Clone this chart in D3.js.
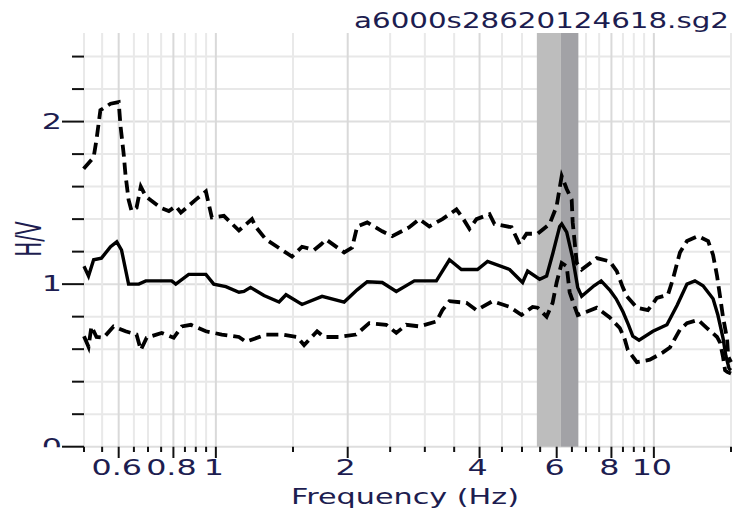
<!DOCTYPE html>
<html><head><meta charset="utf-8">
<script src="https://cdn.jsdelivr.net/npm/d3@7/dist/d3.min.js"></script>
<style>html,body{margin:0;padding:0;background:#fff;overflow:hidden}</style>
</head><body><svg id="c" width="733" height="511"></svg>
<script>
// ---------- data ----------
const title = "a6000s28620124618.sg2";
const xLabel = "Frequency (Hz)";
const yLabel = "H/V";
const xTickValues = [0.5,0.55,0.6,0.65,0.7,0.75,0.8,0.85,0.9,0.95,1,1.5,2,2.5,3,3.5,4,4.5,5,5.5,6,6.5,7,7.5,8,8.5,9,9.5,10,15];
const xTickLabels = [0.6,0.8,1,2,4,6,8,10];
const yTickValues = [0,0.2,0.4,0.6,0.8,1,1.2,1.4,1.6,1.8,2,2.2,2.4];
const yTickLabels = [0,1,2];
const peakFreq = 6.135, bandLow = 5.406, bandHigh = 6.724;

const meanFreq = [0.50,0.512,0.526,0.548,0.575,0.594,0.609,0.632,0.667,0.692,0.793,0.810,0.867,0.949,0.989,1.054,1.129,1.159,1.20,1.288,1.394,1.446,1.573,1.748,1.963,2.102,2.216,2.398,2.582,2.839,3.187,3.414,3.636,3.956,4.171,4.683,5.015,5.149,5.485,5.690,5.88,6.095,6.160,6.324,6.526,6.701,6.842,7.30,7.58,7.95,8.20,8.50,8.75,8.95,9.25,9.95,10.71,11.30,11.90,12.41,12.95,13.65,14.00,14.38,14.60,14.85,15.0];
const meanHV   = [1.11,1.05,1.15,1.16,1.23,1.26,1.21,1.00,1.00,1.02,1.02,1.00,1.06,1.06,1.00,0.985,0.95,0.955,0.98,0.93,0.89,0.935,0.875,0.925,0.89,0.965,1.015,1.01,0.955,1.02,1.02,1.15,1.09,1.09,1.14,1.09,1.01,1.08,1.03,1.05,1.19,1.355,1.37,1.32,1.16,0.98,0.925,0.99,1.02,0.96,0.91,0.83,0.75,0.68,0.655,0.71,0.75,0.87,1.00,1.02,0.99,0.91,0.81,0.67,0.56,0.48,0.47];

const upperFreq = [0.499,0.526,0.534,0.545,0.575,0.600,0.606,0.616,0.622,0.632,0.642,0.659,0.674,0.692,0.748,0.781,0.810,0.832,0.900,0.949,0.979,1.043,1.129,1.209,1.235,1.301,1.416,1.492,1.573,1.676,1.739,1.785,1.963,2.047,2.102,2.216,2.398,2.528,2.765,2.914,3.072,3.290,3.542,3.655,3.793,3.936,4.215,4.327,4.733,4.937,5.122,5.428,5.781,5.998,6.160,6.324,6.492,6.526,6.667,6.842,7.406,7.930,8.228,8.494,8.674,9.144,9.690,10.16,10.77,11.05,11.47,11.90,12.61,13.30,13.65,13.94,14.16,14.38,14.70,14.78,15.0];
const upperHV   = [1.71,1.78,1.89,2.07,2.11,2.12,1.97,1.80,1.67,1.52,1.45,1.47,1.60,1.54,1.47,1.45,1.48,1.44,1.52,1.57,1.41,1.42,1.33,1.40,1.35,1.275,1.21,1.17,1.23,1.21,1.245,1.275,1.195,1.225,1.355,1.38,1.325,1.295,1.35,1.40,1.355,1.40,1.46,1.41,1.34,1.40,1.43,1.37,1.35,1.245,1.31,1.31,1.37,1.48,1.665,1.585,1.52,1.38,1.13,1.09,1.16,1.14,1.08,0.98,0.925,0.855,0.84,0.915,0.935,1.03,1.195,1.265,1.295,1.265,1.18,1.05,0.925,0.80,0.66,0.555,0.52];

const lowerFreq = [0.50,0.512,0.520,0.534,0.554,0.584,0.622,0.659,0.674,0.695,0.752,0.801,0.836,0.877,0.949,1.032,1.129,1.171,1.301,1.416,1.532,1.590,1.703,1.767,1.912,2.091,2.239,2.449,2.582,2.721,2.914,3.187,3.290,3.414,3.734,3.936,4.281,4.683,4.989,5.286,5.428,5.690,5.873,5.998,6.160,6.324,6.423,6.597,6.701,7.026,7.406,7.930,8.360,8.583,8.720,9.144,9.790,10.49,10.88,11.47,11.90,12.61,13.22,13.94,14.16,14.38,14.54,14.70,15.0];
const lowerHV   = [0.68,0.615,0.74,0.675,0.67,0.74,0.71,0.69,0.595,0.67,0.70,0.67,0.74,0.75,0.71,0.69,0.675,0.645,0.69,0.69,0.675,0.625,0.71,0.675,0.675,0.69,0.76,0.75,0.70,0.75,0.74,0.77,0.84,0.895,0.885,0.84,0.895,0.86,0.81,0.86,0.855,0.80,0.885,1.01,1.13,1.11,0.95,0.86,0.81,0.83,0.855,0.795,0.73,0.66,0.595,0.52,0.535,0.58,0.61,0.72,0.76,0.78,0.73,0.675,0.64,0.555,0.47,0.46,0.45];

// ---------- chart ----------
const svg = d3.select("#c");
const x = d3.scaleLog().domain([0.5, 15]).range([84, 731]);
const y = d3.scaleLinear().domain([0, 2.545]).range([446.7, 33]);
const textColor = "#1d1d50";
const font = "DejaVu Sans, Verdana, sans-serif";
const isMajorX = v => xTickLabels.some(l => Math.abs(l - v) < 1e-9);
const isMajorY = v => yTickLabels.some(l => Math.abs(l - v) < 1e-9);

// grid
const grid = svg.append("g");
grid.selectAll("line.h").data(yTickValues).join("line")
  .attr("x1", x(0.5)).attr("x2", x(15))
  .attr("y1", d => y(d)).attr("y2", d => y(d))
  .attr("stroke", d => isMajorY(d) ? "#dedede" : "#e8e8e8").attr("stroke-width", 2);
grid.selectAll("line.v").data(xTickValues).join("line")
  .attr("x1", d => x(d)).attr("x2", d => x(d))
  .attr("y1", y(2.545)).attr("y2", y(0))
  .attr("stroke", d => isMajorX(d) ? "#d9d9d9" : "#e9e9e9").attr("stroke-width", 2);

// peak band
svg.append("rect").attr("x", x(bandLow)).attr("width", x(peakFreq) - x(bandLow))
  .attr("y", y(2.545)).attr("height", y(0) - y(2.545)).attr("fill", "#bdbdbd");
svg.append("rect").attr("x", x(peakFreq)).attr("width", x(bandHigh) - x(peakFreq))
  .attr("y", y(2.545)).attr("height", y(0) - y(2.545)).attr("fill", "#a2a2a6");

// curves
const line = d3.line().x(d => x(d[0])).y(d => y(d[1]));
const zip = (a, b) => a.map((v, i) => [v, b[i]]);
svg.append("path").datum(zip(upperFreq, upperHV)).attr("d", line)
  .attr("fill", "none").attr("stroke", "#000").attr("stroke-width", 3.8)
  .attr("stroke-dasharray", "12,6");
svg.append("path").datum(zip(lowerFreq, lowerHV)).attr("d", line)
  .attr("fill", "none").attr("stroke", "#000").attr("stroke-width", 3.8)
  .attr("stroke-dasharray", "12,6");
svg.append("path").datum(zip(meanFreq, meanHV)).attr("d", line)
  .attr("fill", "none").attr("stroke", "#000").attr("stroke-width", 3.4);

// x ticks
svg.append("g").selectAll("line").data(xTickValues).join("line")
  .attr("x1", d => x(d)).attr("x2", d => x(d))
  .attr("y1", y(0)).attr("y2", d => isMajorX(d) ? 458 : 452)
  .attr("stroke", "#111").attr("stroke-width", 2);
// y ticks
svg.append("g").selectAll("line").data(yTickValues).join("line")
  .attr("x1", d => isMajorY(d) ? 62 : 72).attr("x2", 84)
  .attr("y1", d => y(d)).attr("y2", d => y(d))
  .attr("stroke", "#111").attr("stroke-width", 2);

// x tick labels
svg.append("g").selectAll("text").data(xTickLabels).join("text")
  .attr("transform", d => `translate(${x(d) - 2},475) scale(1.55,1)`)
  .attr("text-anchor", "middle").attr("font-family", font).attr("font-size", 20.5)
  .attr("fill", textColor).text(d => String(d));

// y tick labels (clipped at the axis line)
svg.append("clipPath").attr("id", "yclip").append("rect")
  .attr("x", 0).attr("y", 0).attr("width", 84).attr("height", y(0) + 0.5);
svg.append("g").attr("clip-path", "url(#yclip)").selectAll("text").data(yTickLabels).join("text")
  .attr("transform", d => `translate(62,${y(d) + 7}) scale(1.55,1)`)
  .attr("text-anchor", "end").attr("font-family", font).attr("font-size", 20.5)
  .attr("fill", textColor).text(d => String(d));

// axis titles
svg.append("text").attr("x", 291).attr("y", 504).attr("textLength", 228)
  .attr("lengthAdjust", "spacingAndGlyphs").attr("font-family", font).attr("font-size", 20.5)
  .attr("fill", textColor).text(xLabel);
svg.append("text").attr("transform", "translate(29,239) rotate(-90) scale(1,1.75)")
  .attr("text-anchor", "middle").attr("dominant-baseline", "central")
  .attr("font-family", font).attr("font-size", 20).attr("fill", textColor).text(yLabel);
svg.append("text").attr("x", 354).attr("y", 28).attr("textLength", 375)
  .attr("lengthAdjust", "spacingAndGlyphs").attr("font-family", font).attr("font-size", 20.5)
  .attr("fill", textColor).text(title);
</script></body></html>
